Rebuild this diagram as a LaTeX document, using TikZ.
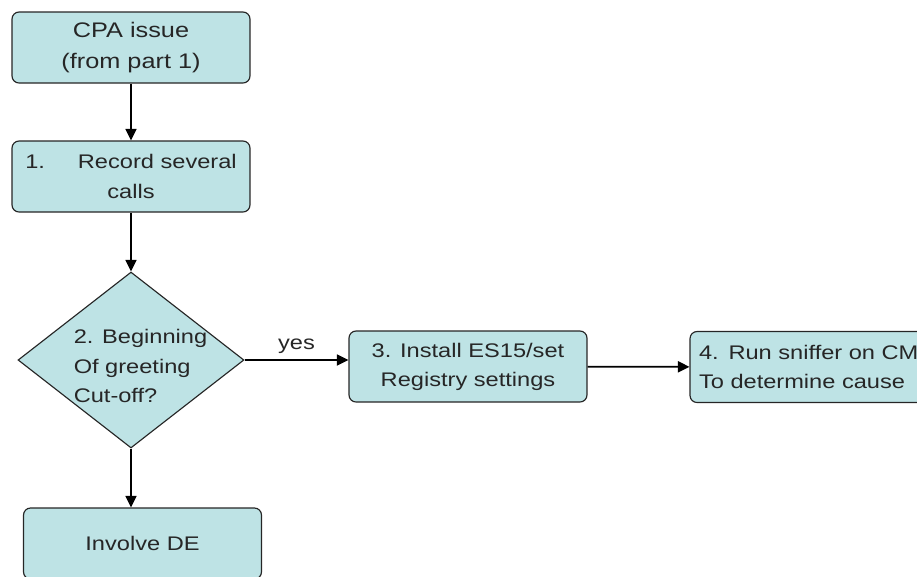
\documentclass[tikz,border=0pt]{standalone}
\usepackage{fontspec}
\setmainfont[FakeStretch=1.2]{Liberation Sans}
\usepackage{tikz}
\usetikzlibrary{shapes.geometric,arrows.meta}

\definecolor{boxfill}{RGB}{190,227,229}

\begin{document}
\begin{tikzpicture}[x=0.02cm,y=-0.02cm,>={Triangle[length=2.3mm,width=2.2mm]}]
  \tikzstyle{stepbox}=[rectangle,rounded corners=0.14cm,draw=black!85,line width=0.65pt,fill=boxfill,
    text=black!85,minimum width=4.76cm,minimum height=1.42cm,inner sep=0pt,align=center,
    font=\fontsize{11.2}{16.6}\selectfont]
  \tikzstyle{decision}=[diamond,draw=black!85,line width=0.65pt,fill=boxfill,inner sep=0pt,
    minimum width=4.52cm,minimum height=3.52cm]
  \tikzstyle{flow}=[->,line width=1pt,black]

  \useasboundingbox (0,0) rectangle (917,576);
  \clip (0,0) rectangle (917,576);

  \node[stepbox,font=\fontsize{12}{17.4}\selectfont] (cpa) at (131,47.5) {CPA issue\\(from part 1)};
  \node[stepbox] (rec) at (131,176.5) {1.\hspace{0.66cm}Record several\\calls};

  \node[decision,label={[align=left,text=black!85,font=\fontsize{11.2}{16.6}\selectfont,
    xshift=0.19cm,yshift=-0.12cm]center:{2. Beginning\\Of greeting\\Cut-off?}}] (dec) at (131,360) {};

  \node[stepbox] (inst) at (468,366.5) {3. Install ES15/set\\Registry settings};
  \node[stepbox,align=left,text width=4.4cm] (sniff) at (809,367) {4. Run sniffer on CM\\To determine cause};

  % end of the no branch
  \node[stepbox] (de) at (142.5,543.5) {Involve DE};

  % edges
  \draw[flow] (cpa) -- (rec);
  \draw[flow] (rec) -- (dec);
  \draw[flow] (dec.east) -- node[above,text=black!85,font=\fontsize{11.2}{13}\selectfont] (yes) {yes} (dec.east -| inst.west);
  \draw[flow] (inst) -- (sniff);
  \draw[flow] (dec.south) -- (dec.south |- de.north);

\end{tikzpicture}
\end{document}
